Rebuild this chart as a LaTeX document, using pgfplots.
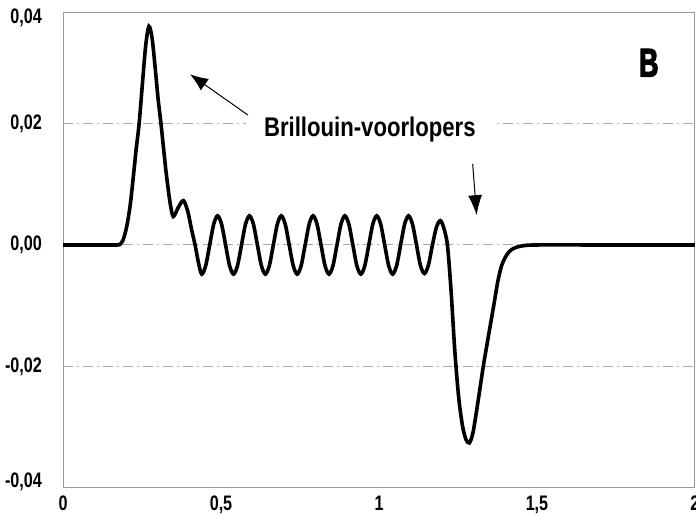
\documentclass[border=0pt]{standalone}
\usepackage{pgfplots}
\pgfplotsset{compat=1.18}
\usetikzlibrary{arrows.meta}
\usepackage{fontspec}
\setmainfont{Liberation Sans}[FakeStretch=0.82]
\newfontfamily\condfont{Liberation Sans}[FakeStretch=0.77]
\newfontfamily\heavyfont{Liberation Sans Bold}[FakeStretch=0.66, FakeBold=3]
\begin{document}
\begin{tikzpicture}
\begin{axis}[
  scale only axis,
  width=316pt, height=237.5pt,
  xmin=0, xmax=2, ymin=-0.04, ymax=0.0382,
  axis line style={gray!80, line width=0.5pt},
  major tick length=0pt,
  xtick={0,0.5,1,1.5,2},
  xticklabels={0,{0,5},1,{1,5},2},
  ytick={-0.039,-0.02,0,0.02,0.0374},
  yticklabels={{-0,04},{-0,02},{0,00},{0,02},{0,04}},
  extra y ticks={-0.02,0,0.02},
  extra y tick labels={},
  extra y tick style={grid=major},
  major grid style={gray!70, line width=0.5pt, dash pattern=on 5pt off 2pt on 1pt off 2pt},
  tick label style={font=\condfont\fontsize{10.5}{12}\selectfont\bfseries, text=black},
  yticklabel style={xshift=-7pt},
  xticklabel style={yshift=-0.5pt},
  clip=false,
]
\addplot[black, line width=1.8pt, smooth, tension=0.5] coordinates {
(0,0) (0.10,0) (0.17,0) (0.18,0.0001) (0.19,0.0008) (0.2015,0.0030) (0.2125,0.0065)
(0.2225,0.0112) (0.232,0.0160) (0.241,0.0200) (0.252,0.0270) (0.262,0.0330)
(0.272,0.0360) (0.282,0.0340) (0.292,0.0290) (0.301,0.0240) (0.310,0.0200)
(0.320,0.0150) (0.328,0.0112) (0.339,0.0069) (0.349,0.0047) (0.365,0.0062)
(0.381,0.0073) (0.395,0.0055) (0.407,0.0025) (0.418,0.0) (0.429,-0.0030)
(0.439,-0.0048) (0.4516,-0.0034) (0.4642,0) (0.4768,0.0034) (0.4893,0.0048) (0.5019,0.0034) (0.5145,0) (0.5271,-0.0034)
(0.5397,-0.0048) (0.5523,-0.0034) (0.5649,0) (0.5775,0.0034) (0.5900,0.0048) (0.6026,0.0034) (0.6152,0) (0.6278,-0.0034)
(0.6404,-0.0048) (0.6530,-0.0034) (0.6656,0) (0.6782,0.0034) (0.6907,0.0048) (0.7033,0.0034) (0.7159,0) (0.7285,-0.0034)
(0.7411,-0.0048) (0.7537,-0.0034) (0.7663,0) (0.7789,0.0034) (0.7914,0.0048) (0.8040,0.0034) (0.8166,0) (0.8292,-0.0034)
(0.8418,-0.0048) (0.8544,-0.0034) (0.8670,0) (0.8796,0.0034) (0.8921,0.0048) (0.9047,0.0034) (0.9173,0) (0.9299,-0.0034)
(0.9425,-0.0048) (0.9551,-0.0034) (0.9677,0) (0.9803,0.0034) (0.9928,0.0048) (1.0054,0.0034) (1.0180,0) (1.0306,-0.0034)
(1.0432,-0.0048) (1.0558,-0.0034) (1.0684,0) (1.0810,0.0034) (1.0935,0.0048) (1.1061,0.0034) (1.1187,0) (1.1313,-0.0034)
(1.1439,-0.0047) (1.1565,-0.0033) (1.1691,0) (1.1817,0.0029) (1.194,0.0040) (1.205,0.0028) (1.2165,0)
(1.228,-0.0075) (1.240,-0.0175) (1.252,-0.0250) (1.264,-0.0297) (1.275,-0.0320) (1.286,-0.0326)
(1.297,-0.0310) (1.308,-0.0276) (1.319,-0.0238) (1.330,-0.0200) (1.341,-0.0166) (1.352,-0.0133)
(1.364,-0.0097) (1.376,-0.0060) (1.388,-0.0034) (1.400,-0.0020) (1.412,-0.0011) (1.425,-0.0006)
(1.440,-0.0003) (1.46,-0.0001) (1.5,0) (1.7,0) (2,0)
};
\node[fill=white, inner xsep=9pt, inner ysep=2pt, anchor=base,
  font=\fontsize{13.5}{15}\selectfont\bfseries] at (axis cs:0.971,0.0178) {Brillouin-voorlopers};
\draw[-{Latex[length=9pt,width=7pt]}, line width=0.5pt] (axis cs:0.585,0.0214) -- (axis cs:0.402,0.0281);
\draw[-{Latex[length=10pt,width=7pt]}, line width=0.5pt] (axis cs:1.2965,0.0133) -- (axis cs:1.309,0.0049);
\node[font=\heavyfont\fontsize{20}{22}\selectfont] at (axis cs:1.854,0.0300) {B};
\coordinate (bl) at (axis cs:-0.1994,-0.04428);
\coordinate (tr) at (axis cs:2.0032,0.04033);
\end{axis}
\pgfresetboundingbox
\path[use as bounding box] (bl) rectangle (tr);
\end{tikzpicture}
\end{document}
